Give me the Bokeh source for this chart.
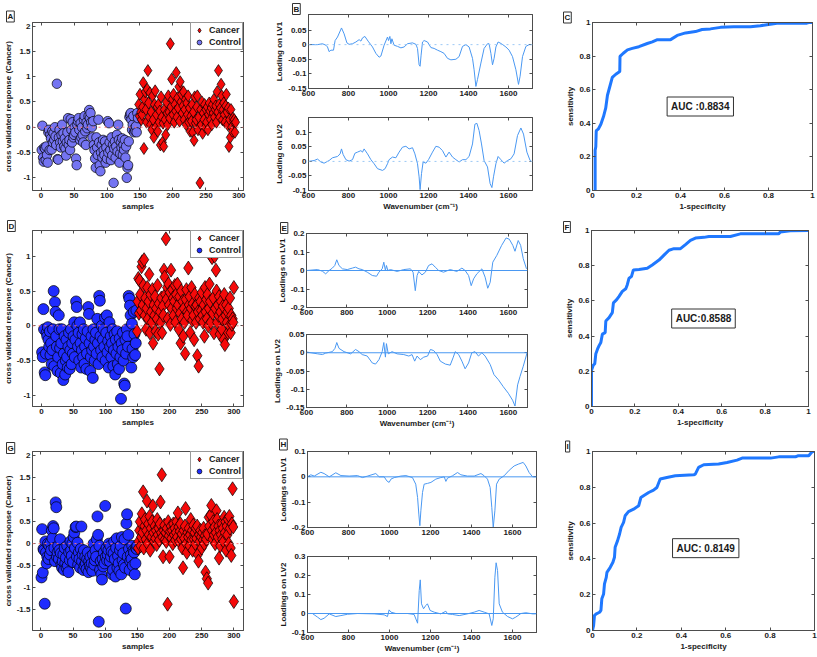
from bokeh.plotting import figure
from bokeh.models import (Range1d, FixedTicker, CustomJSTickFormatter, LinearAxis, Span,
                          Label, Legend, LegendItem, Title)
from bokeh.layouts import row, column
from bokeh.embed import file_html
from bokeh.resources import INLINE

FONT = "Liberation Sans"

# ---------------- DATA ----------------
# Panel A (cross validated response)
a_ctrl_start = 1
a_ctrl = [
    -0.45, 0.03, -0.60, -0.68, -0.40, -0.42, -0.65, -0.38, -0.55, -0.70,
    -0.10, -0.05, -0.45, -0.15, -0.22, -0.44, -0.08, -0.30, -0.12, -0.25,
    0.00, -0.18, -0.35, 0.86, -0.63, -0.64, -0.20, -0.05, -0.30, -0.40,
    -0.15, 0.05, -0.28, -0.12, -0.38, -0.22, -0.42, -0.56, -0.30, -0.10,
    0.18, -0.35, -0.25, -0.45, 0.16, -0.05, -0.30, 0.10, -0.20, -0.15,
    0.00, -0.10, -0.62, -0.75, 0.05, 0.12, 0.18, -0.05, -0.25, 0.08,
    -0.20, 0.00, -0.15, -0.30, 0.15, 0.22, -0.08, -0.35, 0.10, -0.02,
    0.05, 0.22, 0.34, 0.18, 0.28, 0.10, 0.00, -0.20, 0.12, -0.35,
    -0.45, -0.62, -0.80, -0.20, -0.40, -0.55, 0.15, -0.30, -0.75, -0.87,
    -0.50, -0.35, -0.60, -0.25, -0.45, -0.55, -0.28, -0.70, -0.40, -0.62,
    0.12, -0.50, 0.08, -0.30, -0.45, -0.65, -0.20, -0.55, -0.35, -1.10,
    -0.42, -0.28, -0.60, -0.38, -0.15, -0.48, 0.05, -0.25, -0.70, -0.52,
    -0.30, -0.40, -0.22, -0.55, -0.35, -0.45, -0.25, -0.60, -0.38, -1.00,
    -0.80, -0.75, -0.28, 0.20, 0.25, 0.28, 0.15, -0.05, 0.05, 0.22,
    -0.10, -0.02, -0.08, 0.02, -0.10, 0.28, 0.18]
a_canc_start = 148
a_canc = [
    0.45, 0.22, 0.65, 0.30, 0.15, 0.25, 0.40, 0.88, -0.42, 0.55,
    0.70, 0.35, 0.10, 0.75, 1.12, 0.48, 0.20, 0.68, 0.05, 0.30,
    -0.05, 0.62, 0.15, -0.20, 0.45, 0.72, 0.00, 0.25, 0.40, -0.08,
    0.45, 0.10, 0.32, -0.35, 0.60, 0.20, -0.30, 0.08, -0.38, 0.35,
    0.15, -0.15, 0.50, 0.28, 0.05, 0.62, 0.30, 0.18, 1.65, 0.40,
    0.95, 0.55, 0.25, 0.65, 0.10, 0.45, 0.32, 1.08, 0.20, 0.58,
    0.38, 0.80, 0.12, 0.90, 0.50, 0.65, 0.28, 0.42, 0.70, 0.15,
    0.35, 0.55, 0.05, 0.48, 0.25, 0.62, 0.10, 0.38, -0.08, 0.22,
    0.12, 0.45, -0.10, 0.30, -0.26, 0.60, 0.08, 0.15, 0.40, 0.62,
    -0.05, 0.20, 1.90, -1.10, 0.35, 0.05, 0.50, -0.12, 0.28, 0.15,
    0.45, 0.00, 0.35, 0.10, 0.40, -0.05, 0.25, 0.48, 0.32, 0.15,
    0.38, 0.05, 0.45, 0.28, 0.55, 0.20, 0.35, 0.42, 0.10, 0.70,
    0.30, 1.12, 0.45, 0.20, 0.38, 0.85, 0.62, 0.15, 0.35, 0.48,
    0.25, 0.10, 0.42, 0.65, 0.30, 0.05, 0.38, -0.38, 0.15, -0.20,
    0.35, 0.00, -0.08, 0.18, 0.12, 0.15, -0.10, 0.10]

# Panel D
d_ctrl_start = 1
d_ctrl = [
    -0.38, -0.45, 0.24, -0.05, -0.67, -0.71, -0.40, -0.10, -0.15, -0.02,
    -0.20, -0.30, -0.08, -0.42, -0.25, -0.55, -0.35, -0.05, 0.50, -0.58,
    0.34, 0.20, -0.15, -0.30, -0.65, -0.45, 0.15, -0.05, -0.32, -0.68,
    -0.25, -0.05, -0.55, -0.78, -0.40, -0.15, -0.70, -0.50, -0.20, -0.45,
    -0.60, -0.30, -0.10, -0.62, -0.35, -0.05, -0.55, -0.25, -0.40, -0.15,
    0.05, -0.45, -0.20, 0.35, 0.27, 0.00, -0.30, -0.10, -0.50, 0.05,
    -0.25, -0.60, -0.35, -0.12, -0.45, -0.05, -0.55, -0.30, -0.18, -0.62,
    -0.40, -0.08, 0.27, 0.17, -0.25, -0.65, -0.45, -0.15, -0.35, -0.75,
    -0.05, -0.30, -0.50, -0.20, -0.10, -0.40, 0.10, -0.25, -0.55, 0.43,
    0.36, -0.15, -0.35, 0.00, -0.45, -0.20, -0.05, -0.30, 0.12, -0.50,
    -0.10, 0.15, -0.38, -0.22, -0.60, 0.05, -0.30, -0.15, -0.45, -0.25,
    -0.05, -0.58, -0.35, -0.12, -0.70, -0.20, -0.40, -0.08, -0.55, -0.30,
    -0.62, -0.18, -0.45, -1.05, -0.25, -0.35, -0.10, -0.50, -0.83, -0.86,
    -0.20, -0.40, -0.05, -0.15, -0.30, 0.43, 0.39, 0.29, 0.15, -0.60,
    0.03, -0.33, -0.45, 0.20, -0.12, -0.42, -0.25, 0.22]
d_canc_start = 149
d_canc = [
    -0.08, 0.35, 0.68, 0.18, 0.65, 0.45, 0.22, 0.85, 0.92, 0.30,
    0.58, 0.95, 0.15, 0.40, -0.05, 0.25, 0.55, 0.10, 0.35, 0.74,
    -0.10, 0.45, 0.20, 0.05, 0.52, -0.25, 0.30, 0.15, 0.42, -0.08,
    0.25, 0.10, 0.58, -0.12, 0.32, -0.62, 0.20, 0.05, 0.40, -0.10,
    0.28, 0.15, 0.80, 0.70, 0.45, 1.25, 0.38, 0.55, 0.10, 0.60,
    0.30, 0.48, 0.02, 0.80, 0.25, 0.52, 0.40, 0.15, 0.35, 0.58,
    0.05, 0.45, 0.25, 0.60, 0.30, -0.05, 0.42, 0.18, -0.25, 0.50,
    0.10, 0.35, -0.15, 0.25, 0.05, -0.40, 0.38, 0.52, 0.20, 0.15,
    0.83, 0.30, 0.42, -0.10, 0.25, 0.55, 0.08, 0.32, 0.15, -0.20,
    0.45, 0.28, 0.05, 0.30, -0.43, 0.20, -0.58, 0.40, 0.10, 0.35,
    0.22, 0.48, 0.15, 0.05, 0.30, -0.15, 0.55, 0.20, 0.38, 0.10,
    0.45, 0.00, 0.25, 0.60, 0.35, 0.05, 1.00, 0.98, 0.18, 0.40,
    -0.10, 1.00, 0.25, 0.80, 0.50, 0.05, 0.30, 0.15, 0.42, -0.12,
    0.20, 0.35, -0.05, 0.10, 0.28, -0.20, 0.45, -0.27, 0.15, 0.30,
    0.05, 0.20, -0.10, 0.25, 0.00, 0.40, -0.10, 0.15, 0.02, 0.10, 0.05, 0.55]

# Panel G
g_ctrl_start = 1
g_ctrl = [
    -0.77, 0.33, -0.66, -0.12, -0.15, -1.37, 0.05, -0.20, -0.45, -0.30,
    0.00, -0.35, -0.05, -0.25, 0.02, -0.15, 0.30, 0.12, 0.40, 0.35,
    -0.10, -0.40, 0.94, 0.83, -0.30, -0.20, -0.05, -0.35, -0.15, 0.10,
    -0.22, -0.48, -0.55, -0.40, -0.25, -0.60, -0.10, -0.45, -0.32, -0.55,
    -0.05, -0.50, -0.65, -0.20, -0.38, 0.05, -0.15, -0.28, 0.00, -0.42,
    0.15, 0.25, -0.10, 0.38, 0.39, -0.30, 0.02, -0.48, -0.20, -0.35,
    -0.55, -0.12, 0.39, -0.40, -0.25, -0.60, -0.15, -0.50, -0.30, -0.45,
    -0.58, -0.35, -0.20, -0.65, -0.40, -0.50, -0.30, -0.55, -0.45, -0.62,
    -0.25, 0.00, -0.48, -0.38, -0.15, -0.30, 0.10, 0.62, 0.20, -1.78,
    -0.05, -0.60, -0.40, -0.70, -0.82, -0.35, -0.52, -0.20, -0.45, 0.86,
    -0.30, -0.10, -0.38, -0.25, -0.15, 0.00, -0.40, -0.05, -0.30, -0.18,
    -0.70, -0.60, -0.22, 0.05, -0.35, -0.75, -0.10, 0.12, -0.55, -0.28,
    -0.45, -0.62, -0.15, -0.05, -0.70, 0.15, -0.38, -0.22, -0.48, 0.10,
    -0.55, -1.48, 0.46, 0.67, -0.30, 0.20, -0.12, -0.60, -0.40, -0.25,
    -0.35, -0.05, -0.50, -0.15, -0.20, -0.70, -0.45, -0.10, -0.12, -0.05]
g_canc_start = 151
g_canc = [
    -0.10, 0.05, 0.30, 0.50, -0.05, 0.15, 0.68, 0.25, 1.18, -0.10,
    0.40, 0.55, 0.10, 0.30, 0.97, 0.00, 0.45, 0.20, 0.62, -0.15,
    0.35, 0.15, 0.50, 0.86, 0.25, 0.05, 0.40, 0.12, 0.30, -0.02,
    0.55, 0.20, 0.35, 0.08, 0.45, 0.95, 0.25, 1.57, 0.15, -0.30,
    0.30, 0.42, 0.10, 0.25, 0.05, 0.35, -1.38, 0.50, 0.18, -0.30,
    0.28, 0.40, 0.12, 0.30, 0.00, 0.45, 0.20, 0.35, 0.08, 0.25,
    0.50, 0.15, 0.70, 0.38, 0.05, 0.28, 0.45, 0.10, 0.22, -0.10,
    -0.55, 0.30, 0.12, 0.40, 0.80, 0.00, -0.20, 0.25, 0.15, 0.35,
    -0.05, 0.20, 0.55, 0.08, 0.30, -0.15, 0.42, 0.10, 0.25, 0.00,
    0.35, 0.12, 0.40, -0.25, -0.40, 0.20, 0.05, 0.30, 0.15, -0.10,
    0.25, 0.08, 0.35, 0.00, 0.18, -0.65, 0.10, -0.80, 0.22, -0.90,
    0.60, 0.40, 1.90, 0.65, 0.87, 0.30, 0.10, 0.50, 0.20, 0.38,
    0.00, 0.25, 0.75, 0.55, 0.15, 0.40, -0.33, 0.30, -0.05, 0.20,
    0.45, 0.10, 0.35, 0.05, 0.60, 0.25, 0.50, -0.15, 0.40, 0.20,
    0.55, 0.00, 0.62, 0.35, -0.10, -0.27, 0.45, 1.25, 0.38, -1.32]

# Loadings (wavenumber, loading)
b1_wn = [600, 645, 670, 687, 695, 703, 712, 725, 733, 745,
         765, 778, 792, 803, 820, 837, 853, 862, 870, 882,
         898, 920, 937, 953, 962, 978, 995, 1000, 1007, 1012,
         1017, 1028, 1045, 1062, 1078, 1095, 1120, 1137, 1145, 1153,
         1158, 1163, 1170, 1178, 1195, 1212, 1228, 1245, 1262, 1278,
         1295, 1312, 1337, 1353, 1370, 1387, 1403, 1420, 1428, 1437,
         1445, 1462, 1478, 1495, 1503, 1512, 1520, 1528, 1537, 1548,
         1565, 1587, 1603, 1620, 1637, 1650, 1658, 1670, 1687, 1703, 1715]
b1_val = [0, 0, 0.003, -0.002, -0.008, -0.024, -0.019, -0.019, 0.014, 0.026,
          0.057, 0.037, 0.006, 0.001, 0.003, 0.009, 0.017, 0.012, 0.023, 0.028,
          0.012, -0.008, -0.03, -0.043, -0.039, -0.002, 0.026, 0.014, 0.028, 0.003,
          0.02, -0.002, -0.006, -0.011, -0.008, 0.003, 0.006, 0.001, -0.013, -0.069,
          -0.074, -0.036, 0.009, 0.014, 0.009, -0.01, -0.013, -0.019, -0.024, -0.03,
          -0.047, -0.052, -0.05, -0.041, -0.006, 0, -0.008, -0.047, -0.086, -0.143,
          -0.119, -0.063, -0.013, 0.003, 0.003, -0.03, -0.069, -0.047, -0.008, 0.009,
          0.003, -0.008, -0.019, -0.041, -0.086, -0.136, -0.108, -0.041, -0.006, 0, 0]

b2_wn = [600, 628, 645, 662, 678, 703, 720, 745, 758, 765,
         773, 787, 803, 820, 832, 845, 862, 870, 878, 895,
         912, 928, 945, 970, 983, 995, 1003, 1020, 1037, 1053,
         1070, 1087, 1103, 1120, 1132, 1145, 1153, 1158, 1165, 1173,
         1187, 1200, 1220, 1237, 1253, 1270, 1287, 1303, 1320, 1337,
         1353, 1370, 1387, 1403, 1420, 1432, 1442, 1453, 1465, 1478,
         1495, 1508, 1517, 1525, 1537, 1548, 1562, 1578, 1595, 1612,
         1628, 1645, 1662, 1675, 1692, 1708, 1715]
b2_val = [0, 0.003, 0.008, -0.002, -0.006, 0.003, 0.0125, 0.017, 0.026, 0.043,
          0.024, 0.006, 0.001, 0.006, 0.028, 0.032, 0.037, 0.032, 0.043, 0.026,
          0.006, -0.008, -0.025, -0.031, -0.025, -0.008, 0.006, 0.015, 0.0125, 0.032,
          0.049, 0.052, 0.043, 0.047, 0.026, -0.008, -0.053, -0.097, -0.042, -0.002,
          -0.006, 0.006, 0.032, 0.052, 0.049, 0.037, 0.015, 0.032, 0.015, 0.006,
          -0.002, 0.006, 0.006, 0.017, 0.06, 0.128, 0.131, 0.106, 0.06, 0.003,
          -0.019, -0.076, -0.09, -0.053, -0.008, 0.017, 0.006, -0.006, 0.003, 0.009,
          0.026, 0.089, 0.115, 0.094, 0.032, 0.003, 0]

e1_wn = [600, 655, 679, 695, 712, 728, 740, 750, 761, 778,
         802, 827, 843, 860, 876, 901, 926, 947, 959, 975,
         983, 991, 996, 1003, 1016, 1049, 1082, 1115, 1128, 1139,
         1148, 1156, 1172, 1189, 1205, 1222, 1238, 1255, 1279, 1312,
         1345, 1370, 1386, 1403, 1416, 1428, 1444, 1469, 1485, 1498,
         1510, 1523, 1543, 1567, 1589, 1605, 1622, 1633, 1649, 1661,
         1674, 1690]
e1_val = [0, 0.005, -0.004, -0.018, 0, 0.013, 0.027, 0.058, 0.027, 0.009,
          0.005, 0.013, 0.018, 0.009, 0.005, -0.009, -0.027, -0.031, -0.009, 0.009,
          0.045, 0, 0.027, 0, 0.005, -0.005, 0.005, 0.009, -0.009, -0.109,
          -0.027, -0.005, -0.024, -0.009, 0.027, 0.036, 0.018, 0, -0.009, 0.005,
          -0.005, 0.013, 0, -0.027, -0.082, -0.045, -0.018, 0.009, -0.036, -0.096,
          -0.064, 0.045, 0.082, 0.136, 0.176, 0.169, 0.136, 0.104, 0.162, 0.136,
          0.064, 0.009]

e2_wn = [600, 655, 679, 695, 728, 741, 750, 761, 786, 819,
         843, 860, 876, 901, 926, 942, 959, 975, 983, 991,
         996, 1005, 1024, 1049, 1082, 1107, 1123, 1136, 1148, 1164,
         1181, 1200, 1214, 1230, 1247, 1263, 1288, 1312, 1326, 1337,
         1354, 1370, 1386, 1403, 1419, 1435, 1452, 1469, 1485, 1510,
         1529, 1551, 1575, 1600, 1621, 1633, 1646, 1658, 1674, 1694]
e2_val = [0.002, -0.003, -0.005, -0.001, 0.003, 0.012, 0.028, 0.012, 0.003, -0.003,
          0.009, 0.003, -0.005, -0.009, -0.028, -0.031, -0.019, 0.003, 0.028, -0.012,
          0.025, -0.003, 0.003, -0.003, -0.005, -0.009, -0.005, -0.023, -0.009, -0.019,
          -0.012, -0.009, 0.009, 0.006, -0.005, -0.023, -0.031, -0.034, -0.014, 0.003,
          -0.005, -0.023, -0.044, -0.028, 0, 0.003, -0.009, 0, -0.009, -0.032,
          -0.06, -0.074, -0.093, -0.111, -0.13, -0.146, -0.088, -0.065, -0.037, 0.002]

h1_wn = [600, 616, 633, 665, 681, 706, 738, 763, 803, 844,
         868, 893, 933, 950, 974, 987, 998, 1007, 1023, 1055,
         1080, 1112, 1128, 1137, 1143, 1148, 1153, 1161, 1169, 1185,
         1202, 1226, 1250, 1267, 1275, 1283, 1307, 1332, 1348, 1380,
         1413, 1446, 1462, 1478, 1491, 1499, 1506, 1514, 1522, 1535,
         1559, 1584, 1608, 1628, 1652, 1665, 1681, 1698, 1714]
h1_val = [0, 0.008, 0.003, 0.018, 0.013, 0, 0.016, 0.005, 0.003, 0.005,
          -0.003, 0.003, 0.013, 0, 0, -0.016, -0.022, -0.009, -0.003, 0.003,
          0.005, -0.003, -0.029, -0.082, -0.147, -0.193, -0.134, -0.062, -0.029, -0.026,
          -0.022, -0.009, -0.003, 0, -0.018, -0.005, 0.004, 0.017, 0.008, 0.003,
          0.003, 0.013, 0.004, -0.009, -0.042, -0.121, -0.2, -0.134, -0.029, -0.009,
          0.004, 0.026, 0.043, 0.05, 0.057, 0.043, 0.017, 0, 0]

h2_wn = [600, 624, 649, 665, 681, 706, 738, 763, 795, 844,
         925, 974, 990, 998, 1007, 1031, 1088, 1120, 1137, 1145,
         1150, 1156, 1166, 1177, 1185, 1198, 1218, 1250, 1275, 1283,
         1307, 1340, 1380, 1413, 1437, 1462, 1486, 1499, 1506, 1514,
         1520, 1527, 1535, 1551, 1576, 1600, 1616, 1641, 1665, 1698, 1714]
h2_val = [0, 0, -0.019, -0.032, -0.025, -0.002, -0.016, -0.011, -0.004, 0,
          -0.002, -0.007, -0.016, 0.019, 0.007, 0, 0, -0.005, -0.051, 0.121,
          0.177, 0.051, 0.025, 0.042, 0.051, 0.016, 0.007, -0.002, 0.012, -0.002,
          -0.005, -0.011, -0.002, 0.007, 0.016, 0.007, -0.002, -0.063, -0.028, 0.191,
          0.267, 0.226, 0.051, 0.007, -0.016, -0.028, -0.019, 0, 0.004, -0.002, -0.002]

# ROC curves (1-specificity, sensitivity)
c_fpr = [0.008, 0.012, 0.012, 0.015, 0.017, 0.026, 0.038, 0.05, 0.06, 0.068,
         0.08, 0.09, 0.106, 0.124, 0.125, 0.14, 0.159, 0.181, 0.211, 0.249,
         0.272, 0.295, 0.355, 0.385, 0.423, 0.468, 0.498, 0.536, 0.582, 0.642,
         0.718, 0.763, 0.808, 0.838, 0.914, 0.974, 0.982, 1.0]
c_tpr = [0, 0, 0.24, 0.26, 0.356, 0.365, 0.394, 0.44, 0.49, 0.567,
         0.625, 0.673, 0.692, 0.708, 0.798, 0.817, 0.837, 0.846, 0.856, 0.875,
         0.885, 0.898, 0.898, 0.923, 0.938, 0.946, 0.958, 0.962, 0.971, 0.975,
         0.975, 0.981, 0.99, 0.996, 0.996, 0.996, 1.0, 1.0]
f_fpr = [0, 0, 0.008, 0.015, 0.02, 0.028, 0.035, 0.043, 0.05, 0.063,
         0.066, 0.081, 0.096, 0.101, 0.116, 0.127, 0.142, 0.158, 0.165, 0.173,
         0.184, 0.193, 0.219, 0.257, 0.28, 0.311, 0.334, 0.357, 0.38, 0.41,
         0.433, 0.456, 0.479, 0.518, 0.541, 0.64, 0.686, 0.778, 0.862, 0.87,
         0.916, 1.0]
f_tpr = [0, 0.206, 0.234, 0.243, 0.3, 0.327, 0.346, 0.364, 0.411, 0.42,
         0.486, 0.505, 0.533, 0.589, 0.607, 0.626, 0.654, 0.669, 0.692, 0.729,
         0.738, 0.776, 0.779, 0.785, 0.804, 0.832, 0.86, 0.888, 0.897, 0.897,
         0.92, 0.944, 0.957, 0.961, 0.966, 0.966, 0.981, 0.981, 0.981, 0.991,
         0.998, 1.0]
i_fpr = [0, 0.005, 0.009, 0.017, 0.032, 0.038, 0.042, 0.05, 0.054, 0.062,
         0.065, 0.08, 0.092, 0.099, 0.102, 0.113, 0.122, 0.129, 0.14, 0.147,
         0.162, 0.185, 0.208, 0.218, 0.23, 0.253, 0.275, 0.29, 0.305, 0.335,
         0.373, 0.456, 0.463, 0.478, 0.501, 0.568, 0.606, 0.651, 0.674, 0.802,
         0.839, 0.914, 0.925, 0.974, 0.99, 1.0]
i_tpr = [0, 0.028, 0.084, 0.093, 0.102, 0.112, 0.177, 0.204, 0.26, 0.297,
         0.325, 0.353, 0.381, 0.409, 0.465, 0.502, 0.539, 0.576, 0.604, 0.641,
         0.664, 0.678, 0.697, 0.743, 0.753, 0.771, 0.784, 0.799, 0.846, 0.855,
         0.864, 0.87, 0.874, 0.911, 0.926, 0.93, 0.939, 0.952, 0.963, 0.963,
         0.97, 0.97, 0.976, 0.976, 1.0, 1.0]

auc_texts = ["AUC :0.8834", "AUC:0.8588", "AUC: 0.8149"]
panel_letters = ["A", "B", "C", "D", "E", "F", "G", "H", "I"]

sample_ticks = [0, 50, 100, 150, 200, 250, 300]
wn_ticks = [600, 800, 1000, 1200, 1400, 1600]
roc_ticks = [0, 0.2, 0.4, 0.6, 0.8, 1]

# ---------------- STYLE ----------------
AX = "#4d4d4d"
LOAD_C = "#4a98f2"
ROC_C = "#1f78ff"
RED = "#f50a0a"
BLUE_A = "#7474f2"
BLUE = "#1f2cff"
TXT = "#1a1a1a"

FMT = "return String(tick);"


def style_axis(ax, ticks, show_labels=True):
    ax.ticker = FixedTicker(ticks=ticks)
    ax.major_tick_in = 3
    ax.major_tick_out = 0
    ax.minor_tick_line_color = None
    ax.axis_line_color = AX
    ax.major_tick_line_color = AX
    ax.major_label_text_font = FONT
    ax.major_label_text_font_style = "bold"
    ax.major_label_text_color = TXT
    if show_labels:
        ax.formatter = CustomJSTickFormatter(code=FMT)
        ax.major_label_text_font_size = "8px"
        ax.major_label_standoff = 2
    else:
        ax.major_label_text_font_size = "0px"
        ax.major_label_text_alpha = 0
        ax.major_label_standoff = 0
    ax.axis_label_text_font = FONT
    ax.axis_label_text_font_style = "bold"
    ax.axis_label_text_font_size = "8px"
    ax.axis_label_text_color = TXT
    ax.axis_label_standoff = 1


def make_fig(col, band, frame, xr, yr, xticks, yticks, xlabel=None, ylabel=None):
    cx0, cx1 = col
    by0, by1 = band
    fx0, fy0, fx1, fy1 = frame
    p = figure(width=cx1 - cx0, height=by1 - by0, output_backend="svg",
               toolbar_location=None, tools="",
               x_range=Range1d(*xr), y_range=Range1d(*yr),
               min_border_left=fx0 - cx0, min_border_right=cx1 - fx1,
               min_border_top=fy0 - by0, min_border_bottom=by1 - fy1)
    p.xgrid.visible = False
    p.ygrid.visible = False
    p.outline_line_color = AX
    p.outline_line_width = 1
    p.background_fill_color = "white"
    p.border_fill_color = "white"
    style_axis(p.xaxis[0], xticks)
    style_axis(p.yaxis[0], yticks)
    if xlabel:
        p.xaxis[0].axis_label = xlabel
    if ylabel:
        p.yaxis[0].axis_label = ylabel
    top = LinearAxis()
    style_axis(top, xticks, show_labels=False)
    p.add_layout(top, "above")
    right = LinearAxis()
    style_axis(right, yticks, show_labels=False)
    p.add_layout(right, "right")
    p._frame = frame
    p._band = band
    return p


def panel_label(p, letter, left, top):
    fx0, fy0, fx1, fy1 = p._frame
    border = fy0 - p._band[0]
    standoff = min(fy0 - (top + 10), border - 14)
    t = Title(text=letter, align="left", vertical_align="bottom",
              offset=left - fx0, standoff=standoff,
              text_font=FONT, text_font_style="bold", text_font_size="8px",
              text_color=TXT, border_line_color="#333333", border_line_width=1,
              background_fill_color="white", padding=1)
    p.add_layout(t, "above")


def scatter_panel(col, band, frame, xr, yr, yticks, ctrl_start, ctrl, canc_start, canc,
                  blue, csize, dsize):
    p = make_fig(col, band, frame, xr, yr, sample_ticks, yticks,
                 xlabel="samples", ylabel="cross validated response (Cancer)")
    p.add_layout(Span(location=0, dimension="width", line_color="#ff7a7a",
                      line_dash="dotted", line_width=1))
    xc = list(range(ctrl_start, ctrl_start + len(ctrl)))
    xk = list(range(canc_start, canc_start + len(canc)))
    rb = p.scatter(xc, ctrl, marker="circle", size=csize, fill_color=blue,
                   line_color="black", line_width=0.7)
    rr = p.scatter(xk, canc, marker="diamond", size=dsize, fill_color=RED,
                   line_color="black", line_width=0.7)
    leg = Legend(items=[LegendItem(label="Cancer", renderers=[rr]),
                        LegendItem(label="Control", renderers=[rb])],
                 location="top_right",
                 padding=1, spacing=0, margin=0, glyph_width=14, glyph_height=12,
                 label_height=12, label_standoff=3,
                 label_text_font=FONT, label_text_font_style="bold",
                 label_text_font_size="9px", label_text_color=TXT,
                 border_line_color="#333333", border_line_width=1,
                 background_fill_color="white", background_fill_alpha=1)
    p.add_layout(leg)
    return p


def loading_panel(col, band, frame, xr, yr, yticks, wn, val, ylabel, xlabel, zero_dash):
    p = make_fig(col, band, frame, xr, yr, wn_ticks, yticks, xlabel=xlabel, ylabel=ylabel)
    if zero_dash:
        p.add_layout(Span(location=0, dimension="width", line_color="#9cc8f5",
                          line_dash="dotted", line_width=1))
    else:
        p.add_layout(Span(location=0, dimension="width", line_color=LOAD_C,
                          line_width=1))
    p.line(wn, val, line_color=LOAD_C, line_width=1)
    return p


def roc_panel(col, band, frame, fpr, tpr, auc, ax, ay):
    p = make_fig(col, band, frame, (0, 1), (0, 1), roc_ticks, roc_ticks,
                 xlabel="1-specificity", ylabel="sensitivity")
    p.line(fpr, tpr, line_color=ROC_C, line_width=3)
    p.add_layout(Label(x=ax, y=ay, text=auc, text_align="center", text_baseline="middle",
                       text_font=FONT, text_font_style="bold", text_font_size="10px",
                       text_color=TXT, border_line_color="#333333", border_line_width=1,
                       background_fill_color="white", padding=4))
    return p


WN_LABEL = "Wavenumber (cm\u207b\u00b9)"

# Row 1
pA = scatter_panel((0, 270), (0, 213), (29, 15, 243, 190), (-13, 307), (-1.25, 2.07),
                   [-1, -0.5, 0, 0.5, 1, 1.5, 2], a_ctrl_start, a_ctrl, a_canc_start, a_canc,
                   BLUE_A, 9.5, 12)
pB1 = loading_panel((270, 560), (0, 100), (308, 14, 532, 88), (600, 1720), (-0.15, 0.103),
                    [-0.15, -0.1, -0.05, 0, 0.05], b1_wn, b1_val, "Loading on LV1", None, True)
pB2 = loading_panel((270, 560), (100, 213), (308, 117, 532, 191), (600, 1720), (-0.1, 0.151),
                    [-0.1, -0.05, 0, 0.05, 0.1], b2_wn, b2_val, "Loading on LV2", WN_LABEL, True)
pC = roc_panel((560, 817), (0, 213), (592, 22, 812, 195), c_fpr, c_tpr, auc_texts[0], 0.49, 0.5)

# Row 2
pD = scatter_panel((0, 270), (213, 430), (28, 230, 243, 406), (-14, 315), (-1.16, 1.37),
                   [-1, -0.5, 0, 0.5, 1], d_ctrl_start, d_ctrl, d_canc_start, d_canc,
                   BLUE, 11, 14)
pE1 = loading_panel((270, 560), (213, 320), (306, 233, 527, 307), (600, 1695), (-0.2, 0.2),
                    [-0.2, -0.1, 0, 0.1, 0.2], e1_wn, e1_val, "Loadings on LV1", None, False)
pE2 = loading_panel((270, 560), (320, 430), (306, 334, 527, 408), (600, 1695), (-0.15, 0.05),
                    [-0.15, -0.1, -0.05, 0, 0.05], e2_wn, e2_val, "Loadings on LV2", WN_LABEL, False)
pF = roc_panel((560, 817), (213, 430), (591, 230, 808, 408), f_fpr, f_tpr, auc_texts[1], 0.516, 0.5)

# Row 3
pG = scatter_panel((0, 270), (430, 657), (29, 446, 243, 632), (-13, 315), (-1.98, 2.1),
                   [-1.5, -1, -0.5, 0, 0.5, 1, 1.5, 2], g_ctrl_start, g_ctrl, g_canc_start, g_canc,
                   BLUE, 11, 14)
pH1 = loading_panel((270, 560), (430, 541), (307, 451, 536, 527), (600, 1717), (-0.2, 0.1),
                    [-0.2, -0.1, 0, 0.1], h1_wn, h1_val, "Loadings on LV1", None, False)
pH2 = loading_panel((270, 560), (541, 657), (307, 556, 536, 632), (600, 1717), (-0.1, 0.3),
                    [-0.1, 0, 0.1, 0.2, 0.3], h2_wn, h2_val, "Loadings on LV2", WN_LABEL, False)
pI = roc_panel((560, 817), (430, 657), (592, 451, 814, 630), i_fpr, i_tpr, auc_texts[2], 0.51, 0.46)

# panel letters
panel_label(pA, panel_letters[0], 3, 3)
panel_label(pB1, panel_letters[1], 292, 3)
panel_label(pC, panel_letters[2], 563, 13)
panel_label(pD, panel_letters[3], 3, 222)
panel_label(pE1, panel_letters[4], 280, 223)
panel_label(pF, panel_letters[5], 563, 224)
panel_label(pG, panel_letters[6], 3, 440)
panel_label(pH1, panel_letters[7], 279, 438)
panel_label(pI, panel_letters[8], 565, 442)

layout = column(
    row(pA, column(pB1, pB2, spacing=0), pC, spacing=0),
    row(pD, column(pE1, pE2, spacing=0), pF, spacing=0),
    row(pG, column(pH1, pH2, spacing=0), pI, spacing=0),
    spacing=0)

open("out.html", "w").write(file_html(layout, INLINE))
